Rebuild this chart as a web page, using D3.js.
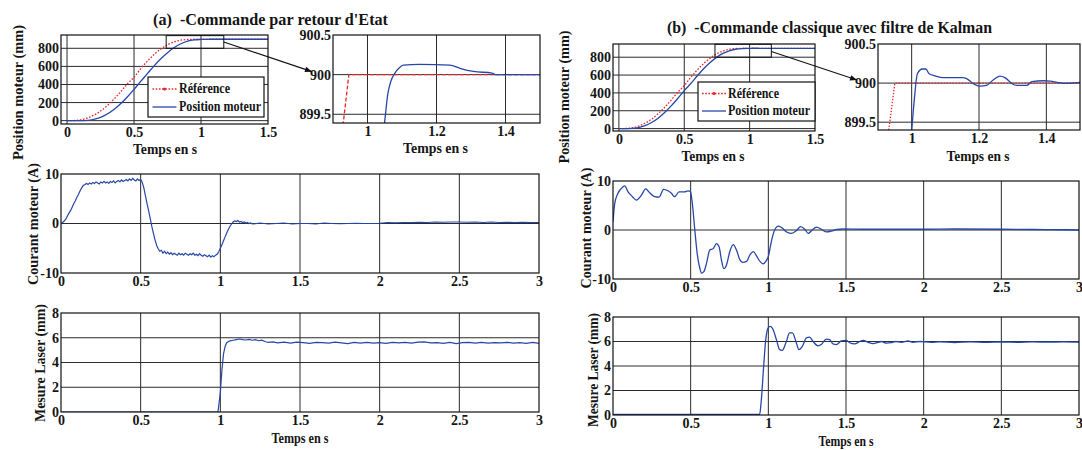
<!DOCTYPE html>
<html><head><meta charset="utf-8">
<script src="https://cdn.jsdelivr.net/npm/d3@7"></script>
<style>
body{margin:0;background:#fff;}
svg text{font-family:"Liberation Serif","Times New Roman",serif;font-weight:bold;fill:#151515;}
</style></head><body>
<svg id="c" width="1082" height="450"></svg>
<script>
// ---------- texts ----------
const titles = ["(a)  -Commande par retour d'Etat", "(b)  -Commande classique avec filtre de Kalman"];
const xLabel = "Temps en s";
const yLabels = ["Position moteur (mm)", "Courant moteur (A)", "Mesure Laser (mm)"];
const legendLabels = ["Référence", "Position moteur"];
// ---------- ticks ----------
const posTicksX = [0, 0.5, 1, 1.5];
const posTicksY = [0, 200, 400, 600, 800];
const zoomTicksX = [1, 1.2, 1.4];
const zoomTicksY = [899.5, 900, 900.5];
const longTicksX = [0, 0.5, 1, 1.5, 2, 2.5, 3];
const currentTicksY = [-10, 0, 10];
const laserTicksY = [0, 2, 4, 6, 8];
// ---------- series (t [s], value) ----------
const aReference = [[0,0],[0.05,1],[0.1,9],[0.15,28],[0.2,60],[0.25,106],[0.3,166],[0.35,238],[0.4,319],[0.45,406],[0.5,480],[0.55,575],[0.6,658],[0.65,731],[0.7,792],[0.75,839],[0.8,871],[0.85,890],[0.9,897.6],[0.93,899.4],[0.946,900],[1.0,900],[1.5,900]];
const aMotor = [[0,0],[0.05,0],[0.1,0.5],[0.15,3],[0.2,14],[0.25,36],[0.3,73],[0.35,124],[0.4,187],[0.45,262],[0.5,345],[0.55,434],[0.6,520],[0.65,606],[0.7,684],[0.75,752],[0.8,808],[0.85,850],[0.9,879],[0.95,893],[1.0,897.6],[1.03,898.9],[1.049,899.38],[1.059,899.76],[1.068,899.92],[1.078,900.01],[1.093,900.09],[1.104,900.12],[1.151,900.13],[1.239,900.12],[1.268,900.08],[1.307,900.04],[1.361,900.02],[1.371,900.0],[1.5,900.0]];
const bReference = [[0,0],[0.05,1],[0.1,9],[0.15,28],[0.2,60],[0.25,106],[0.3,166],[0.35,238],[0.4,319],[0.45,406],[0.5,480],[0.55,575],[0.6,658],[0.65,731],[0.7,792],[0.75,839],[0.8,871],[0.85,890],[0.9,897.5],[0.932,899.4],[0.95,900],[1.0,900],[1.5,900]];
const bMotor = [[0,0],[0.05,0],[0.1,2],[0.15,12],[0.2,33],[0.25,68],[0.3,117],[0.35,180],[0.4,254],[0.45,337],[0.5,425],[0.55,505],[0.6,592],[0.65,673],[0.7,743],[0.75,801],[0.8,845],[0.85,875],[0.9,892],[0.95,897.5],[0.98,898.9],[1.0,899.4],[1.007,899.75],[1.017,900.12],[1.032,900.18],[1.042,900.18],[1.052,900.12],[1.072,900.09],[1.092,900.07],[1.152,900.07],[1.162,900.06],[1.182,899.996],[1.202,899.96],[1.222,899.97],[1.242,900.04],[1.262,900.09],[1.277,900.07],[1.297,899.996],[1.312,899.97],[1.342,899.97],[1.357,900.02],[1.392,900.03],[1.412,900.026],[1.432,900.01],[1.452,899.996],[1.472,900.0],[1.5,900.01]];
const aCurrent = [[0,0],[0.01,0.2],[0.02,0.5],[0.03,0.9],[0.04,1.5],[0.05,2.1],[0.06,2.6],[0.07,3.3],[0.08,4.0],[0.09,4.6],[0.1,5.3],[0.11,5.9],[0.12,6.6],[0.13,7.2],[0.14,7.7],[0.15,7.9],[0.16,8.1],[0.17,7.9],[0.18,8.2],[0.19,8.0],[0.2,8.3],[0.21,8.1],[0.22,8.4],[0.23,8.2],[0.24,8.0],[0.25,8.4],[0.26,8.2],[0.27,8.5],[0.28,8.2],[0.29,8.4],[0.3,8.1],[0.31,8.5],[0.32,8.3],[0.33,8.6],[0.34,8.2],[0.35,8.5],[0.36,8.7],[0.37,8.4],[0.38,8.8],[0.39,8.5],[0.4,8.7],[0.41,8.9],[0.42,8.6],[0.43,9.0],[0.44,8.7],[0.45,9.1],[0.46,8.8],[0.47,8.6],[0.48,9.0],[0.49,8.7],[0.5,8.9],[0.51,8.3],[0.52,7.2],[0.53,5.6],[0.54,4.0],[0.55,2.6],[0.56,1.0],[0.57,-0.6],[0.58,-2.0],[0.59,-3.3],[0.6,-4.4],[0.61,-5.1],[0.62,-5.6],[0.63,-5.4],[0.64,-6.0],[0.65,-5.6],[0.66,-6.1],[0.67,-5.8],[0.68,-6.2],[0.69,-5.9],[0.7,-6.3],[0.71,-6.0],[0.72,-6.2],[0.73,-6.4],[0.74,-6.0],[0.75,-6.3],[0.76,-6.1],[0.77,-6.4],[0.78,-6.0],[0.79,-6.2],[0.8,-6.4],[0.81,-6.1],[0.82,-6.3],[0.83,-6.0],[0.84,-6.4],[0.85,-6.2],[0.86,-6.5],[0.87,-6.1],[0.88,-6.4],[0.89,-6.6],[0.9,-6.3],[0.91,-6.5],[0.92,-6.7],[0.93,-6.4],[0.94,-6.8],[0.95,-6.5],[0.96,-6.7],[0.97,-6.4],[0.98,-6.2],[0.99,-5.7],[1.0,-5.0],[1.01,-4.3],[1.02,-3.5],[1.03,-2.7],[1.04,-1.9],[1.05,-1.2],[1.06,-0.6],[1.07,-0.1],[1.08,0.3],[1.09,0.5],[1.1,0.4],[1.11,0.6],[1.12,0.3],[1.13,0.4],[1.14,0.2],[1.15,0.3],[1.16,0.1],[1.17,0.2],[1.18,0.0],[1.19,0.1],[1.2,-0.1],[1.25,0.1],[1.3,-0.1],[1.35,0.0],[1.4,0.1],[1.45,-0.1],[1.5,0.0],[1.55,0.0],[1.6,-0.1],[1.65,0.1],[1.7,0.0],[1.75,-0.05],[1.8,0.0],[1.85,0.05],[1.9,0.0],[1.95,0.0],[2.0,0.05],[2.05,0.2],[2.1,0.15],[2.15,0.2],[2.2,0.2],[2.25,0.25],[2.3,0.2],[2.35,0.3],[2.4,0.25],[2.45,0.3],[2.5,0.3],[2.55,0.25],[2.6,0.3],[2.65,0.2],[2.7,0.3],[2.75,0.2],[2.8,0.25],[2.85,0.2],[2.9,0.25],[2.95,0.2],[3.0,0.2]];
const bCurrent = [[0,1.7],[0.011,5.4],[0.032,7.5],[0.054,8.5],[0.075,9.0],[0.097,7.8],[0.125,6.8],[0.15,6.1],[0.183,7.1],[0.21,8.4],[0.236,7.6],[0.268,6.8],[0.296,6.7],[0.326,8.3],[0.354,8.0],[0.376,7.5],[0.397,6.8],[0.425,7.8],[0.46,7.8],[0.483,8.0],[0.499,7.8],[0.511,5.3],[0.527,-0.1],[0.542,-4.8],[0.559,-7.8],[0.57,-8.8],[0.585,-8.5],[0.602,-6.8],[0.623,-4.1],[0.645,-3.8],[0.666,-2.8],[0.683,-3.4],[0.698,-6.1],[0.714,-7.9],[0.731,-7.1],[0.752,-4.4],[0.774,-3.0],[0.795,-4.1],[0.817,-6.1],[0.834,-6.6],[0.86,-6.4],[0.881,-5.1],[0.903,-4.4],[0.924,-5.3],[0.946,-6.4],[0.967,-6.9],[0.984,-6.4],[1.0,-5.4],[1.021,-2.1],[1.042,0.1],[1.064,0.8],[1.085,0.5],[1.118,-0.4],[1.15,-0.7],[1.182,-0.1],[1.208,0.7],[1.236,0.1],[1.257,-0.7],[1.279,-0.1],[1.311,0.6],[1.343,0.1],[1.375,-0.4],[1.408,-0.2],[1.44,0.1],[1.483,0.2],[1.6,0.15],[1.8,0.15],[2.0,0.15],[2.2,0.2],[2.5,0.15],[2.7,0.1],[2.9,0.05],[3.0,0.0]];
const aLaser = [[0,0],[0.985,0],[0.99,0.5],[1.0,1.6],[1.01,3.4],[1.02,4.7],[1.03,5.3],[1.04,5.6],[1.06,5.75],[1.08,5.8],[1.1,5.85],[1.12,5.9],[1.14,5.85],[1.16,5.82],[1.18,5.87],[1.2,5.8],[1.22,5.85],[1.24,5.76],[1.26,5.8],[1.28,5.7],[1.3,5.62],[1.33,5.66],[1.36,5.58],[1.4,5.64],[1.44,5.57],[1.48,5.65],[1.52,5.6],[1.56,5.55],[1.6,5.63],[1.64,5.6],[1.68,5.57],[1.72,5.64],[1.76,5.58],[1.8,5.52],[1.84,5.62],[1.88,5.57],[1.92,5.63],[1.96,5.56],[2.0,5.6],[2.04,5.55],[2.08,5.62],[2.12,5.58],[2.16,5.63],[2.2,5.57],[2.24,5.64],[2.28,5.66],[2.32,5.58],[2.36,5.61],[2.4,5.55],[2.44,5.62],[2.48,5.53],[2.52,5.6],[2.56,5.63],[2.6,5.57],[2.64,5.62],[2.68,5.56],[2.72,5.61],[2.76,5.58],[2.8,5.63],[2.84,5.56],[2.88,5.6],[2.92,5.55],[2.96,5.62],[3.0,5.55]];
const bLaser = [[0,0.05],[0.944,0.05],[0.955,1.25],[0.97,4.0],[0.983,6.1],[0.998,7.1],[1.013,7.24],[1.03,7.0],[1.052,6.15],[1.073,5.33],[1.09,5.28],[1.116,6.0],[1.137,6.7],[1.155,6.7],[1.18,5.9],[1.197,5.33],[1.219,5.6],[1.245,6.3],[1.266,6.35],[1.288,6.0],[1.32,5.65],[1.341,5.75],[1.373,6.2],[1.395,6.15],[1.416,5.8],[1.438,5.75],[1.47,6.05],[1.5,6.1],[1.524,5.9],[1.556,5.8],[1.588,6.0],[1.61,6.1],[1.642,5.93],[1.674,5.82],[1.706,5.93],[1.728,6.0],[1.76,5.87],[1.79,5.9],[1.82,6.0],[1.856,5.93],[1.9,6.04],[1.93,5.93],[1.975,6.0],[2.05,5.93],[2.1,5.98],[2.2,5.92],[2.3,5.97],[2.4,5.93],[2.5,5.96],[2.6,5.94],[2.7,5.97],[2.8,5.95],[2.9,5.97],[3.0,5.95]];

// ---------- drawing ----------
const BLUE = "#2747a6", RED = "#e8252b", GRID = "#2a2a2a";
const svg = d3.select("#c");
const defs = svg.append("defs");
defs.append("marker").attr("id","arr").attr("viewBox","0 0 10 10").attr("refX",10).attr("refY",5)
  .attr("markerWidth",9).attr("markerHeight",7).attr("markerUnits","userSpaceOnUse").attr("orient","auto")
  .append("path").attr("d","M0,1 L10,5 L0,9 z").attr("fill","#111");

function fitText(sel, len){ sel.attr("textLength", len).attr("lengthAdjust","spacingAndGlyphs"); return sel; }

function panel(cfg){
  const x = d3.scaleLinear().domain(cfg.xDom).range([cfg.x0, cfg.x1]);
  const y = d3.scaleLinear().domain(cfg.yDom).range([cfg.y1, cfg.y0]);
  const g = svg.append("g");
  const cid = "clip-" + cfg.name;
  defs.append("clipPath").attr("id", cid).append("rect")
    .attr("x", cfg.x0).attr("y", cfg.y0).attr("width", cfg.x1 - cfg.x0).attr("height", cfg.y1 - cfg.y0);
  // grid
  g.append("g").selectAll("line").data(cfg.xTicks.filter(d => x(d) > cfg.x0 + 0.5 && x(d) < cfg.x1 - 0.5)).join("line")
    .attr("x1", d => x(d)).attr("x2", d => x(d)).attr("y1", cfg.y0).attr("y2", cfg.y1)
    .attr("stroke", GRID).attr("stroke-width", 1);
  g.append("g").selectAll("line").data(cfg.yTicks.filter(d => y(d) > cfg.y0 + 0.5 && y(d) < cfg.y1 - 0.5)).join("line")
    .attr("x1", cfg.x0).attr("x2", cfg.x1).attr("y1", d => y(d)).attr("y2", d => y(d))
    .attr("stroke", GRID).attr("stroke-width", 1);
  // series
  const sg = g.append("g").attr("clip-path", `url(#${cid})`);
  (cfg.series || []).forEach(s => {
    sg.append("path").datum(s.data)
      .attr("d", d3.line().x(d => x(d[0])).y(d => y(d[1])).curve(s.curve || d3.curveMonotoneX))
      .attr("fill","none").attr("stroke", s.color).attr("stroke-width", s.width || 1.3)
      .attr("stroke-dasharray", s.dash || null);
  });
  // box
  g.append("rect").attr("x", cfg.x0).attr("y", cfg.y0).attr("width", cfg.x1 - cfg.x0).attr("height", cfg.y1 - cfg.y0)
    .attr("fill","none").attr("stroke","#111").attr("stroke-width",1.2);
  // axes
  const fmt = d => String(d);
  const ax = g.append("g").attr("transform", `translate(0,${cfg.y1})`)
    .call(d3.axisBottom(x).tickValues(cfg.xTicks).tickFormat(fmt).tickSize(0).tickPadding(3));
  const ay = g.append("g").attr("transform", `translate(${cfg.x0},0)`)
    .call(d3.axisLeft(y).tickValues(cfg.yTicks).tickFormat(fmt).tickSize(0).tickPadding(2));
  [ax, ay].forEach(a => {
    a.select(".domain").remove();
    a.selectAll("text").attr("font-size", 14).attr("fill", "#151515");
    a.attr("font-family", null).attr("font-size", null);
  });
  return {x, y};
}

// ---- panel (a) ----
const aPos = panel({name:"aPos", x0:61, x1:268, y0:35, y1:124, xDom:[-0.045,1.5], yDom:[-37,947],
  xTicks: posTicksX, yTicks: posTicksY,
  series:[{data:aReference, color:RED, dash:"1.6,1.6"},{data:aMotor, color:BLUE}]});
const aZoom = panel({name:"aZoom", x0:333, x1:540, y0:35, y1:123, xDom:[0.9,1.5], yDom:[899.39,900.5],
  xTicks: zoomTicksX, yTicks: zoomTicksY,
  series:[{data:aReference, color:RED, dash:"4,2", curve:d3.curveLinear},{data:aMotor, color:BLUE}]});
const aCur = panel({name:"aCur", x0:61, x1:539, y0:174, y1:273, xDom:[0,3], yDom:[-10,10],
  xTicks: longTicksX, yTicks: currentTicksY,
  series:[{data:aCurrent, color:BLUE, width:1.2, curve:d3.curveLinear}]});
const aLas = panel({name:"aLas", x0:61, x1:539, y0:313, y1:412, xDom:[0,3], yDom:[0,8],
  xTicks: longTicksX, yTicks: laserTicksY,
  series:[{data:aLaser, color:BLUE, width:1.2, curve:d3.curveLinear}]});
// ---- panel (b) ----
const bPos = panel({name:"bPos", x0:613, x1:815, y0:44, y1:131, xDom:[-0.045,1.5], yDom:[-27,948],
  xTicks: posTicksX, yTicks: posTicksY,
  series:[{data:bReference, color:RED, dash:"1.6,1.6"},{data:bMotor, color:BLUE}]});
const bZoom = panel({name:"bZoom", x0:878, x1:1080, y0:44, y1:130, xDom:[0.9,1.5], yDom:[899.4,900.5],
  xTicks: zoomTicksX, yTicks: zoomTicksY,
  series:[{data:bReference, color:RED, dash:"1.4,1.6", curve:d3.curveLinear},{data:bMotor, color:BLUE}]});
const bCur = panel({name:"bCur", x0:613, x1:1079, y0:181, y1:279, xDom:[0,3], yDom:[-10,10],
  xTicks: longTicksX, yTicks: currentTicksY,
  series:[{data:bCurrent, color:BLUE}]});
const bLas = panel({name:"bLas", x0:613, x1:1079, y0:317, y1:415, xDom:[0,3], yDom:[0,8],
  xTicks: longTicksX, yTicks: laserTicksY,
  series:[{data:bLaser, color:BLUE}]});

// ---- zoom rectangles + arrows ----
function zoomMark(p, z, xr, yr, arrowY){
  svg.append("rect").attr("x", p.x(xr[0])).attr("y", p.y(yr[1]))
    .attr("width", p.x(xr[1]) - p.x(xr[0])).attr("height", p.y(yr[0]) - p.y(yr[1]))
    .attr("fill","none").attr("stroke","#111").attr("stroke-width",1);
  svg.append("line").attr("x1", p.x(xr[1])).attr("y1", p.y(arrowY))
    .attr("x2", z.x(0.9) - 21).attr("y2", z.y(900) - 3)
    .attr("stroke","#111").attr("stroke-width",1.1).attr("marker-end","url(#arr)");
}
zoomMark(aPos, aZoom, [0.74,1.17], [800,940], 870);
zoomMark(bPos, bZoom, [0.735,1.166], [800,945], 865);

// ---- legends ----
function legend(x0, y0, w, h, lx, tx, by1, by2, textLens){
  const g = svg.append("g");
  g.append("rect").attr("x",x0).attr("y",y0).attr("width",w).attr("height",h)
    .attr("fill","#fff").attr("stroke","#111").attr("stroke-width",1.2);
  g.append("line").attr("x1",lx).attr("x2",lx+24).attr("y1",by1-4).attr("y2",by1-4)
    .attr("stroke",RED).attr("stroke-width",1.3).attr("stroke-dasharray","1.6,1.6");
  g.append("circle").attr("cx",lx+12).attr("cy",by1-4).attr("r",1.6).attr("fill",RED);
  g.append("line").attr("x1",lx).attr("x2",lx+24).attr("y1",by2-4).attr("y2",by2-4)
    .attr("stroke",BLUE).attr("stroke-width",1.3);
  fitText(g.append("text").attr("x",tx).attr("y",by1).attr("font-size",14).text(legendLabels[0]), textLens[0]);
  fitText(g.append("text").attr("x",tx).attr("y",by2).attr("font-size",14).text(legendLabels[1]), textLens[1]);
}
legend(148, 77, 116, 40, 152.5, 179, 93, 111, [51, 82]);
legend(698, 82, 117, 39, 702, 728, 97.5, 115, [51, 82]);

// ---- titles ----
fitText(svg.append("text").attr("x",153).attr("y",25).attr("font-size",17).style("white-space","pre").text(titles[0]), 235);
fitText(svg.append("text").attr("x",667).attr("y",33).attr("font-size",17).style("white-space","pre").text(titles[1]), 325);

// ---- x labels ----
[[165,154,64,14],[435.5,153,65,14],[713,161,63,14],[978,161,63,14],[300,443,57,14],[846,446,55,14]].forEach(([cx,by,len,fs]) => {
  fitText(svg.append("text").attr("x",cx).attr("y",by).attr("text-anchor","middle").attr("font-size",fs).text(xLabel), len);
});
// ---- y labels ----
[[18.5,92.5,135,0],[564,97,133,0],[33,224,122,1],[586,228,121,1],[40,363,118,2],[593,370,114,2]].forEach(([cx,cy,len,i]) => {
  fitText(svg.append("text").attr("transform",`translate(${cx},${cy}) rotate(-90)`).attr("dy","0.35em")
    .attr("text-anchor","middle").attr("font-size",14).text(yLabels[i]), len);
});
</script>
</body></html>
